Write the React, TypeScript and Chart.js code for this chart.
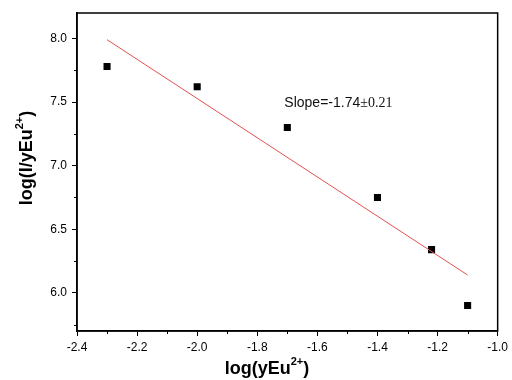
import React, { useEffect, useRef } from "react";
import { Chart, registerables } from "chart.js";

Chart.register(...registerables);

const xValues = [-2.3, -2.0, -1.7, -1.4, -1.22, -1.1];
const yValues = [7.78, 7.62, 7.3, 6.75, 6.34, 5.9];
const fitX = [-2.3, -1.1];
const fitY = [7.99, 6.14];
const xMajorTicks = [-2.4, -2.2, -2.0, -1.8, -1.6, -1.4, -1.2, -1.0];
const yMajorTicks = [6.0, 6.5, 7.0, 7.5, 8.0];
const xMinorTicks = [-2.3, -2.1, -1.9, -1.7, -1.5, -1.3, -1.1];
const yMinorTicks = [5.75, 6.25, 6.75, 7.25, 7.75];
const slopeMain = "Slope=-1.74";
const slopeErr = "\u00b10.21";

const overlay = {
  id: "overlay",
  afterDraw(chart: any) {
    const { ctx, chartArea: a, scales } = chart;
    const xs = scales.x;
    const ys = scales.y;
    ctx.save();
    ctx.strokeStyle = "#000";
    ctx.lineWidth = 1.5;
    ctx.strokeRect(a.left, a.top, a.right - a.left, a.bottom - a.top);
    ctx.lineWidth = 1;
    ctx.beginPath();
    for (const v of xMinorTicks) {
      const px = Math.round(xs.getPixelForValue(v)) + 0.5;
      ctx.moveTo(px, a.bottom);
      ctx.lineTo(px, a.bottom + 3);
    }
    for (const v of yMinorTicks) {
      const py = Math.round(ys.getPixelForValue(v)) + 0.5;
      ctx.moveTo(a.left, py);
      ctx.lineTo(a.left - 3, py);
    }
    ctx.stroke();

    // slope annotation
    ctx.fillStyle = "#111";
    ctx.textBaseline = "alphabetic";
    ctx.textAlign = "left";
    ctx.font = "14px 'Liberation Sans', Arial, sans-serif";
    const sx = xs.getPixelForValue(-1.71);
    const sy = ys.getPixelForValue(7.5) + 5;
    ctx.fillText(slopeMain, sx, sy);
    const w1 = ctx.measureText(slopeMain).width;
    ctx.font = "14px 'Liberation Serif', 'Times New Roman', serif";
    ctx.fillText(slopeErr, sx + w1, sy);

    // axis titles with superscripts
    const big = "bold 18px 'Liberation Sans', Arial, sans-serif";
    const small = "bold 11px 'Liberation Sans', Arial, sans-serif";
    const drawTitle = (pre: string, sup: string, post: string, cx: number, cy: number, rot: number) => {
      ctx.save();
      ctx.translate(cx, cy);
      ctx.rotate(rot);
      ctx.font = big;
      const w1 = ctx.measureText(pre).width;
      const w3 = ctx.measureText(post).width;
      ctx.font = small;
      const w2 = ctx.measureText(sup).width;
      const total = w1 + w2 + w3;
      let x = -total / 2;
      ctx.fillStyle = "#000";
      ctx.textBaseline = "alphabetic";
      ctx.font = big;
      ctx.fillText(pre, x, 6);
      x += w1;
      ctx.font = small;
      ctx.fillText(sup, x, -3);
      x += w2;
      ctx.font = big;
      ctx.fillText(post, x, 6);
      ctx.restore();
    };
    drawTitle("log(yEu", "2+", ")", 267, 368, 0);
    drawTitle("log(I/yEu", "2+", ")", 26, 158, -Math.PI / 2);
    ctx.restore();
  },
};

export default function App() {
  const ref = useRef<HTMLCanvasElement>(null);
  useEffect(() => {
    document.body.style.margin = "0";
    const tickFont = { family: "'Liberation Sans', Arial, sans-serif", size: 12 };
    const chart = new Chart(ref.current!, {
      type: "scatter",
      data: {
        datasets: [
          {
            type: "line",
            data: fitX.map((x, i) => ({ x, y: fitY[i] })),
            borderColor: "#e0524f",
            borderWidth: 1,
            pointRadius: 0,
            fill: false,
          } as any,
          {
            data: xValues.map((x, i) => ({ x, y: yValues[i] })),
            backgroundColor: "#000",
            borderColor: "#000",
            pointStyle: "rect",
            pointRadius: 5,
            borderWidth: 0,
          },
        ],
      },
      options: {
        animation: false,
        responsive: false,
        layout: { padding: { left: 0, top: 13, right: 9, bottom: 0 } },
        plugins: { legend: { display: false }, tooltip: { enabled: false } },
        scales: {
          x: {
            type: "linear",
            min: -2.4,
            max: -1.0,
            afterFit: (s: any) => { s.height = 49; },
            afterBuildTicks: (s: any) => { s.ticks = xMajorTicks.map((v) => ({ value: v })); },
            ticks: {
              color: "#000",
              font: tickFont,
              padding: 4,
              maxRotation: 0,
              autoSkip: false,
              callback: (v: any) => Number(v).toFixed(1),
            },
            grid: { drawOnChartArea: false, drawTicks: true, tickLength: 5, color: "#000" },
            border: { display: true, color: "#000", width: 1.5 },
          },
          y: {
            type: "linear",
            min: 5.7,
            max: 8.2,
            afterFit: (s: any) => { s.width = 77; },
            afterBuildTicks: (s: any) => { s.ticks = yMajorTicks.map((v) => ({ value: v })); },
            ticks: {
              color: "#000",
              font: tickFont,
              padding: 5,
              autoSkip: false,
              callback: (v: any) => Number(v).toFixed(1),
            },
            grid: { drawOnChartArea: false, drawTicks: true, tickLength: 5, color: "#000" },
            border: { display: true, color: "#000", width: 1.5 },
          },
        },
      },
      plugins: [overlay],
    } as any);
    return () => chart.destroy();
  }, []);
  return (
    <div style={{ width: 512, height: 380, background: "#fff" }}>
      <canvas ref={ref} width={512} height={380} style={{ display: "block" }} />
    </div>
  );
}
